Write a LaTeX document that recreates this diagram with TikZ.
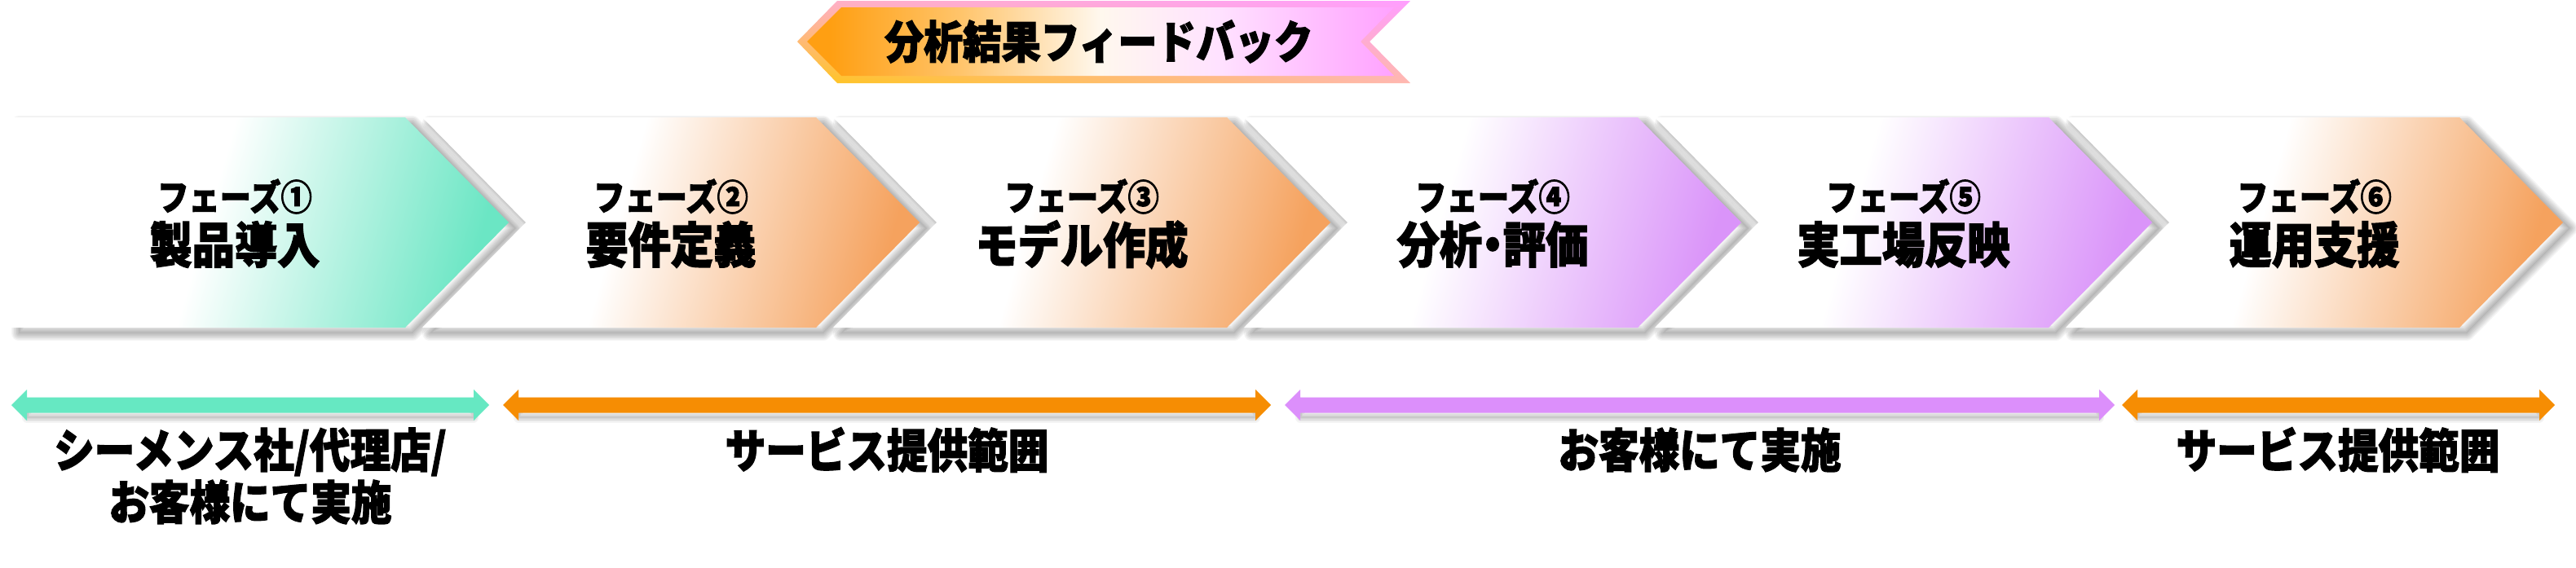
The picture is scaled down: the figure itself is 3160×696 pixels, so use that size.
\documentclass[tikz,border=0pt]{standalone}
\usepackage{fontspec}
\usetikzlibrary{shadings}
\setmainfont{Noto Sans CJK JP}[BoldFeatures={FakeBold=2.1}, FakeStretch=0.87]
\definecolor{tealc}{HTML}{6BE6C4}
\definecolor{orangec}{HTML}{F5A25E}
\definecolor{purplec}{HTML}{DA94F9}
\definecolor{tealarrow}{HTML}{66E8C2}
\definecolor{orangearrow}{HTML}{F68D03}
\definecolor{purplearrow}{HTML}{DC8FFB}
\definecolor{bo1}{HTML}{FF9F12}
\definecolor{bo2}{HTML}{FFC46A}
\definecolor{bcream}{HTML}{FFF8EE}
\definecolor{bpink1}{HTML}{FFE2FF}
\definecolor{bmag}{HTML}{FFA2FF}
\definecolor{brUL}{HTML}{FFB0C4}
\definecolor{brUR}{HTML}{FF9EFF}
\definecolor{brLL}{HTML}{FFC51F}
\definecolor{brLR}{HTML}{FFB8B0}
\pgfdeclarehorizontalshading{gteal}{100bp}{color(0bp)=(white); color(44bp)=(white); color(75bp)=(tealc); color(100bp)=(tealc)}
\pgfdeclarehorizontalshading{gorange}{100bp}{color(0bp)=(white); color(44bp)=(white); color(75bp)=(orangec); color(100bp)=(orangec)}
\pgfdeclarehorizontalshading{gpurple}{100bp}{color(0bp)=(white); color(44bp)=(white); color(75bp)=(purplec); color(100bp)=(purplec)}
\pgfdeclarehorizontalshading{gbanner}{100bp}{color(0bp)=(bo1); color(27bp)=(bo1); color(38bp)=(bo2); color(50bp)=(bcream); color(60bp)=(bpink1); color(75bp)=(bmag); color(100bp)=(bmag)}
\tikzset{
  phase/.style={font=\bfseries\fontsize{44}{48}\selectfont, inner sep=0pt},
  pname/.style={font=\bfseries\fontsize{60}{64}\selectfont, inner sep=0pt},
  lbl/.style={font=\bfseries\fontsize{57}{64}\selectfont, align=center, inner sep=0pt},
  fbtext/.style={font=\bfseries\fontsize{55}{60}\selectfont, inner sep=0pt},
  shadowfill/.style={fill=black, opacity=0.05},
  shadowring/.style={draw=black, opacity=0.045, line join=round},
}
\begin{document}
\begin{tikzpicture}[x=1pt,y={(0pt,-1pt)}]
\useasboundingbox[fill=white] (0,0) rectangle (3160,696);

% ---------- feedback banner ----------
\path[upper left=brUL, upper right=brUR, lower left=brLL, lower right=brLR]
  (978,51) -- (1027,1) -- (1730,1) -- (1680,51) -- (1730,102) -- (1027,102) -- cycle;
\path[shading=gbanner]
  (990,51) -- (1032,9) -- (1710,9) -- (1669,51) -- (1710,93) -- (1032,93) -- cycle;
\node[fbtext] (fb) at (1348,51) {分析結果フィードバック};

% ---------- chevrons ----------
% soft shadows
\foreach \i in {1,...,6}{
  \pgfmathsetmacro\L{14+504*(\i-1)}
  \ifnum\i=1
    \fill[shadowfill, shift={(9,7)}] (\L,144) -- ({\L+483},144) -- ({\L+610},273) -- ({\L+483},402) -- (\L,402) -- cycle;
    \foreach \r in {3,6,9,12,15,18}{
      \draw[shadowring, line width=\r pt, shift={(9,7)}] (\L,144) -- ({\L+483},144) -- ({\L+610},273) -- ({\L+483},402) -- (\L,402) -- cycle;
    }
  \else
    \fill[shadowfill, shift={(9,7)}] (\L,144) -- ({\L+483},144) -- ({\L+610},273) -- ({\L+483},402) -- (\L,402) -- ({\L+127},273) -- cycle;
    \foreach \r in {3,6,9,12,15,18}{
      \draw[shadowring, line width=\r pt, shift={(9,7)}] (\L,144) -- ({\L+483},144) -- ({\L+610},273) -- ({\L+483},402) -- (\L,402) -- ({\L+127},273) -- cycle;
    }
  \fi
}
% bodies
\path[shading=gteal, shading angle=-16] (14,144) -- (497,144) -- (624,273) -- (497,402) -- (14,402) -- cycle;
\foreach \i/\sh in {2/gorange,3/gorange,4/gpurple,5/gpurple,6/gorange}{
  \pgfmathsetmacro\L{14+504*(\i-1)}
  \path[shading=\sh, shading angle=-16] (\L,144) -- ({\L+483},144) -- ({\L+610},273) -- ({\L+483},402) -- (\L,402) -- ({\L+127},273) -- cycle;
}
% texts
\node[phase] (p1a) at (288,241) {フェーズ①};
\node[pname] (p1b) at (288,300) {製品導入};
\node[phase] (p2a) at (823,241) {フェーズ②};
\node[pname] (p2b) at (823,300) {要件定義};
\node[phase] (p3a) at (1327,241) {フェーズ③};
\node[pname] (p3b) at (1327,300) {モデル作成};
\node[phase] (p4a) at (1831,241) {フェーズ④};
\node[pname] (p4b) at (1831,300) {分析\kern-0.22em・\kern-0.22em評価};
\node[phase] (p5a) at (2335,241) {フェーズ⑤};
\node[pname] (p5b) at (2335,300) {実工場反映};
\node[phase] (p6a) at (2839,241) {フェーズ⑥};
\node[pname] (p6b) at (2839,300) {運用支援};

% ---------- double arrows ----------
\foreach \a/\b/\c in {14/600/tealarrow, 617/1559/orangearrow, 1576/2594/purplearrow, 2603/3134/orangearrow}{
  \fill[shadowfill, shift={(0,6)}] ({\a+19},487.5) rectangle ({\b-19},506.5);
  \foreach \r in {3,6,9,12}{
    \draw[shadowring, line width=\r pt, shift={(0,6)}] ({\a+19},487.5) rectangle ({\b-19},506.5);
  }
  \fill[\c] (\a,497) -- ({\a+19},478) -- ({\a+19},487.5) -- ({\b-19},487.5) -- ({\b-19},478) -- (\b,497)
     -- ({\b-19},516) -- ({\b-19},506.5) -- ({\a+19},506.5) -- ({\a+19},516) -- cycle;
}

% ---------- labels ----------
\node[lbl] (l1) at (307,584) {シーメンス社/代理店/\\お客様にて実施};
\node[lbl] (l2) at (1088,552) {サービス提供範囲};
\node[lbl] (l3) at (2085,552) {お客様にて実施};
\node[lbl] (l4) at (2868,552) {サービス提供範囲};
\end{tikzpicture}
\end{document}
